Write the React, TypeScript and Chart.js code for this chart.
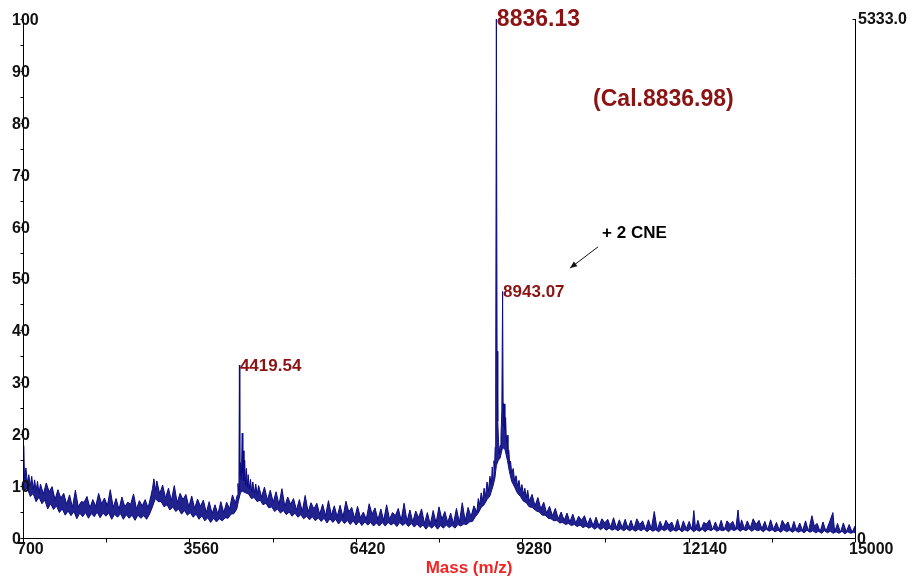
import { useEffect, useRef } from 'react';
import { Chart, registerables } from 'chart.js';

Chart.register(...registerables);

// ---- Spectrum trace: [mass (m/z), relative intensity (%)] ----
const lowMassBaseline: [number, number][] = [
  [700,12.6],[712,17.8],[725,11.4],[750,13.5],[775,10.6],[800,12.2],[825,10.0],[850,11.9],[875,9.4],[900,11.2],
  [925,9.1],[950,10.9],[975,8.6],[1000,10.4],[1050,8.5],[1100,10.6],[1150,8.9],[1200,9.9],[1250,7.4],[1300,9.3],
  [1350,7.7],[1400,8.6],[1450,6.5],[1500,8.3],[1550,5.9],[1600,9.2],[1650,6.0],[1700,7.0],[1750,6.9],[1800,8.0],
  [1850,5.8],[1900,7.4],[1950,6.1],[2000,8.6],[2050,6.6],[2100,7.7],[2150,6.2],[2200,9.3],[2250,5.9],[2300,7.6],
  [2350,5.5],[2400,7.9],[2450,6.0],[2500,6.9],[2550,6.5],[2600,8.5],[2650,5.6],[2700,7.2],[2750,6.2],[2800,7.4],
  [2850,5.8],[2900,8.2],[2925,9.5],[2950,11.4],[2975,9.2],[3000,11.0],[3050,8.5],[3100,10.2],[3150,7.7],[3200,9.6],
  [3250,7.2],[3300,10.1],[3350,6.8],[3400,8.6],[3450,7.4],[3500,8.4],[3550,6.0],[3600,8.1],[3650,5.7],[3700,7.5],
  [3750,6.1],[3800,7.3],[3850,4.9],[3900,7.0],[3950,4.7],[4000,6.4],[4050,4.6],[4100,7.0],[4150,4.9],[4200,6.9],
  [4250,5.6],[4300,8.3],[4350,6.7],[4380,8.2],
];

const peak4419Region: [number, number][] = [
  [4395,10.5],[4405,9.0],[4412,13.0],[4419.54,33.3],[4426,12.0],[4438,14.5],[4452,11.2],[4468,20.2],[4478,12.5],
  [4488,16.8],[4498,11.0],[4510,15.0],[4525,10.2],[4540,13.4],[4555,9.8],[4570,12.2],[4590,9.5],[4610,11.3],
  [4630,8.9],[4650,10.8],[4675,8.6],[4700,10.4],
];

const midMassBaseline: [number, number][] = [
  [4725,8.4],[4750,10.1],[4800,7.9],[4850,9.8],[4900,7.3],[4950,9.2],[5000,6.9],[5050,8.9],[5100,6.4],[5150,9.5],
  [5200,6.1],[5250,7.9],[5300,6.5],[5350,7.6],[5400,5.4],[5450,7.4],[5500,5.1],[5550,8.2],[5600,5.0],[5650,6.8],
  [5700,5.6],[5750,6.7],[5800,4.6],[5850,6.5],[5900,4.3],[5950,7.2],[6000,4.4],[6050,6.2],[6100,4.1],[6150,6.3],
  [6200,4.0],[6250,7.1],[6300,5.0],[6350,5.9],[6400,3.8],[6450,6.1],[6500,3.9],[6550,5.0],[6600,3.6],[6650,6.6],
  [6700,4.6],[6750,5.8],[6800,3.5],[6850,5.6],[6900,3.4],[6950,6.4],[7000,3.6],[7050,4.9],[7100,4.3],[7150,5.7],
  [7200,3.4],[7250,6.7],[7300,3.2],[7350,5.4],[7400,3.1],[7450,5.2],[7500,3.9],[7550,5.6],[7600,2.8],[7650,4.9],
  [7700,2.6],[7750,5.3],[7800,2.9],[7850,6.0],[7900,3.6],[7950,5.1],[8000,3.0],[8050,4.8],[8100,2.8],[8150,5.7],
  [8200,3.0],[8250,6.8],[8300,3.3],[8350,5.9],[8400,4.1],[8450,6.2],[8500,5.0],
];

const peak8836Region: [number, number][] = [
  [8525,7.6],[8550,6.4],[8575,8.7],[8600,7.2],[8625,9.6],[8650,8.0],[8675,10.8],[8700,9.0],[8725,11.9],[8750,10.3],
  [8765,13.7],[8780,11.6],[8795,14.9],[8805,13.2],[8815,17.5],[8825,30.0],[8836.13,100],[8848,36.0],[8860,22.5],
  [8873,18.4],[8887,16.2],[8900,17.8],[8915,19.5],[8930,24.5],[8943.07,47.5],[8952,26.0],[8962,21.5],[8972,25.8],
  [8982,20.8],[8995,23.2],[9008,18.6],[9020,19.8],[9035,16.3],[9050,16.9],[9065,14.2],[9080,14.8],[9100,12.4],
  [9125,13.4],[9150,11.0],[9175,12.0],[9200,10.0],[9225,11.1],[9250,9.2],[9275,10.3],[9300,8.4],[9325,9.6],
  [9350,7.8],[9375,9.2],[9400,7.1],
];

const highMassBaseline: [number, number][] = [
  [9450,8.4],[9500,6.2],[9550,7.8],[9600,5.6],[9650,6.9],[9700,4.8],[9750,6.1],[9800,4.3],[9850,5.7],[9900,3.7],
  [9950,5.0],[10000,3.4],[10050,4.8],[10100,3.1],[10150,4.6],[10200,2.9],[10250,4.2],[10300,3.4],[10350,4.3],
  [10400,2.6],[10450,3.9],[10500,2.4],[10550,4.0],[10600,2.3],[10650,3.7],[10700,2.9],[10750,3.6],[10800,2.1],
  [10850,3.9],[10900,2.0],[10950,3.5],[11000,2.0],[11050,3.6],[11100,1.9],[11150,3.4],[11200,1.8],[11250,3.7],
  [11300,2.6],[11350,3.3],[11400,1.7],[11450,3.5],[11500,1.8],[11550,5.1],[11600,1.6],[11650,3.2],[11700,1.9],
  [11750,3.4],[11800,2.5],[11850,3.1],[11900,1.7],[11950,3.6],[12000,1.5],[12050,3.3],[12100,1.8],[12150,3.2],
  [12200,1.6],[12230,5.3],[12260,1.7],[12300,3.4],[12350,1.5],[12400,3.0],[12450,2.7],[12500,3.5],[12550,1.6],
  [12600,3.1],[12650,1.7],[12700,3.4],[12750,1.5],[12800,3.3],[12850,2.6],[12900,3.2],[12950,1.7],[12990,5.4],
  [13020,1.9],[13050,3.5],[13100,1.8],[13150,3.3],[13200,1.9],[13250,3.7],[13300,2.6],[13350,3.4],[13400,1.8],
  [13450,3.2],[13500,1.6],[13550,3.5],[13600,1.7],[13650,3.0],[13700,1.5],[13750,3.4],[13800,2.4],[13850,3.1],
  [13900,1.4],[13950,3.2],[14000,1.5],[14050,2.9],[14100,1.4],[14150,3.3],[14200,1.3],[14260,4.3],[14300,2.3],
  [14350,2.8],[14400,1.2],[14450,3.1],[14500,1.3],[14550,2.7],[14620,4.9],[14650,1.2],[14700,2.8],[14750,1.1],
  [14800,2.9],[14850,1.2],[14900,2.6],[14950,1.1],[15000,2.3],
];

// ---- Lower edge of the noise band: [mass (m/z), relative intensity (%)] ----
const noiseFloorLowMass: [number, number][] = [
  [700,10.6],[725,9.2],[775,9.6],[825,8.0],[875,8.6],[925,7.0],[975,7.9],[1025,6.6],[1075,7.3],[1125,5.6],
  [1175,6.6],[1225,5.5],[1275,6.2],[1325,4.9],[1375,5.6],[1425,4.4],[1475,5.2],[1525,4.3],[1575,5.1],[1625,3.7],
  [1675,4.8],[1725,4.1],[1775,4.9],[1825,3.8],[1875,4.7],[1925,4.1],[1975,5.0],[2025,3.9],[2075,4.8],[2125,4.2],
  [2175,4.8],[2225,3.6],[2275,4.6],[2325,4.0],[2375,4.7],[2425,3.6],[2475,4.5],[2525,3.8],[2575,4.4],[2625,3.4],
  [2675,4.4],[2725,3.8],[2775,4.3],[2825,3.6],[2875,4.6],[2925,6.0],[2975,7.6],[3025,7.0],[3075,7.0],[3125,6.0],
  [3175,6.4],[3225,5.4],[3275,6.0],[3325,5.1],[3375,5.6],[3425,4.6],[3475,5.3],[3525,4.4],[3575,4.9],[3625,4.0],
  [3675,4.6],[3725,3.6],[3775,4.3],[3825,3.3],[3875,3.9],[3925,3.0],[3975,3.8],[4025,3.1],[4075,3.7],[4125,3.3],
  [4175,3.9],[4225,3.8],[4275,4.6],[4325,4.7],[4375,5.6],[4400,7.0],[4440,8.8],[4475,9.0],[4525,8.7],[4575,8.5],
  [4625,7.6],[4675,7.8],
];

const noiseFloorMidMass: [number, number][] = [
  [4725,7.0],[4775,7.3],[4825,6.4],[4875,6.7],[4925,5.8],[4975,6.0],[5025,5.1],[5075,5.6],[5125,4.8],[5175,5.3],
  [5225,4.5],[5275,5.0],[5325,4.2],[5375,4.8],[5425,4.0],[5475,4.5],[5525,3.7],[5575,4.2],[5625,3.5],[5675,4.1],
  [5725,3.3],[5775,3.9],[5825,3.2],[5875,3.8],[5925,2.9],[5975,3.7],[6025,3.0],[6075,3.6],[6125,2.7],[6175,3.5],
  [6225,2.8],[6275,3.4],[6325,2.6],[6375,3.3],[6425,2.5],[6475,3.2],[6525,2.4],[6575,3.1],[6625,2.5],[6675,3.0],
  [6725,2.3],[6775,2.9],[6825,2.3],[6875,3.0],[6925,2.3],[6975,3.0],[7025,2.5],[7075,2.9],[7125,2.2],[7175,3.0],
  [7225,2.4],[7275,2.9],[7325,2.2],[7375,2.8],[7425,2.1],[7475,2.7],[7525,2.0],[7575,2.5],[7625,1.7],[7675,2.4],
  [7725,1.9],[7775,2.5],[7825,1.7],[7875,2.4],[7925,1.9],[7975,2.5],[8025,2.0],[8075,2.4],[8125,1.9],[8175,2.6],
  [8225,2.3],[8275,2.7],[8325,2.6],[8375,3.1],[8425,3.2],[8475,4.1],[8525,4.8],[8575,5.9],[8625,6.4],[8675,7.4],
  [8725,8.1],[8775,9.9],[8810,11.5],[8836.13,14.0],[8870,15.0],[8900,15.4],[8943.07,17.5],[8985,17.0],
  [9025,15.0],[9060,12.8],[9100,10.9],[9150,9.8],[9200,8.6],[9250,8.0],[9300,7.1],[9350,6.8],[9400,6.0],[9450,5.9],
];

const noiseFloorHighMass: [number, number][] = [
  [9525,5.2],[9575,5.0],[9625,4.4],[9675,4.4],[9725,3.8],[9775,3.7],[9825,3.3],[9875,3.4],[9925,2.9],[9975,3.0],
  [10025,2.6],[10075,2.8],[10125,2.4],[10175,2.6],[10225,2.2],[10275,2.5],[10325,2.0],[10375,2.3],[10425,1.9],
  [10475,2.2],[10525,1.7],[10575,2.1],[10625,1.6],[10675,2.0],[10725,1.5],[10775,1.9],[10825,1.5],[10875,1.8],
  [10925,1.4],[10975,1.8],[11025,1.4],[11075,1.8],[11125,1.4],[11175,1.7],[11225,1.3],[11275,1.7],[11325,1.4],
  [11375,1.8],[11425,1.2],[11475,1.7],[11525,1.3],[11575,1.6],[11625,1.2],[11675,1.7],[11725,1.4],[11775,1.8],
  [11825,1.2],[11875,1.6],[11925,1.3],[11975,1.7],[12025,1.2],[12075,1.6],[12125,1.3],[12175,1.8],[12225,1.2],
  [12275,1.6],[12325,1.3],[12375,1.7],[12425,1.2],[12475,1.7],[12525,1.4],[12575,1.8],[12625,1.3],[12675,1.6],
  [12725,1.4],[12775,1.7],[12825,1.2],[12875,1.7],[12925,1.4],[12975,1.8],[13025,1.3],[13075,1.7],[13125,1.4],
  [13175,1.8],[13225,1.3],[13275,1.7],[13325,1.4],[13375,1.6],[13425,1.2],[13475,1.7],[13525,1.3],[13575,1.6],
  [13625,1.2],[13675,1.5],[13725,1.1],[13775,1.6],[13825,1.2],[13875,1.5],[13925,1.1],[13975,1.5],[14025,1.1],
  [14075,1.4],[14125,1.0],[14175,1.5],[14225,1.1],[14275,1.4],[14325,1.0],[14375,1.3],[14425,0.9],[14475,1.4],
  [14525,1.0],[14575,1.3],[14625,0.9],[14675,1.2],[14725,0.9],[14775,1.3],[14825,0.8],[14875,1.2],[14925,0.9],
  [14975,1.1],[15000,1.0],
];

// ---- Axes ----
const xTickLabels = [700, 3560, 6420, 9280, 12140, 15000];
const xMinorTicks = [2130, 4990, 7850, 10710, 13570];
const yTickLabels = [0, 10, 20, 30, 40, 50, 60, 70, 80, 90, 100];
const yMinorTicks = [5, 15, 25, 35, 45, 55, 65, 75, 85, 95];
const rightAxisTop = '5333.0';
const rightAxisBottom = '0';
const xAxisTitle = 'Mass (m/z)';

// ---- Peak annotations ----
const peakMasses = [4419.54, 8836.13, 8943.07];
const peakIntensities = [33.3, 100, 47.5];
const calculatedText = '(Cal.8836.98)';
const adductText = '+ 2 CNE';

const FONT = '"Liberation Sans", Arial, Helvetica, sans-serif';
const TRACE = '#0a0a82';

const spectrumDecor = {
  id: 'spectrumDecor',
  afterDatasetsDraw(chart: any) {
    const { ctx, chartArea, scales } = chart;
    const xs = scales.x;
    const ys = scales.y;
    const left = Math.round(chartArea.left) + 0.5;
    const right = Math.round(chartArea.right) + 0.5;
    const top = Math.round(chartArea.top);
    const bottom = Math.round(chartArea.bottom) + 0.5;

    ctx.save();
    ctx.strokeStyle = '#000';
    ctx.lineWidth = 1;
    ctx.beginPath();
    ctx.moveTo(left, top);
    ctx.lineTo(left, bottom);
    ctx.lineTo(right, bottom);
    ctx.lineTo(right, top);
    ctx.stroke();

    ctx.beginPath();
    [...xTickLabels, ...xMinorTicks].forEach((v) => {
      const px = Math.round(xs.getPixelForValue(v)) + 0.5;
      ctx.moveTo(px, bottom);
      ctx.lineTo(px, bottom + 4);
    });
    [...yMinorTicks, ...yTickLabels].forEach((v) => {
      const py = Math.round(ys.getPixelForValue(v)) + 0.5;
      ctx.moveTo(left - 3, py);
      ctx.lineTo(left, py);
    });
    ctx.moveTo(right - 3, top + 0.5);
    ctx.lineTo(right, top + 0.5);
    ctx.stroke();

    // tick labels
    ctx.fillStyle = '#111';
    ctx.font = `bold 16px ${FONT}`;
    ctx.textBaseline = 'middle';
    ctx.textAlign = 'left';
    yTickLabels.forEach((v) => {
      ctx.fillText(String(v), left - 11.5, ys.getPixelForValue(v) + 1.5);
    });
    xTickLabels.forEach((v) => {
      ctx.fillText(String(v), xs.getPixelForValue(v) - 6, bottom + 11);
    });
    ctx.fillText(rightAxisTop, right + 2.5, top + 0.5);
    ctx.fillText(rightAxisBottom, right + 1.5, bottom + 1);

    // axis title
    ctx.fillStyle = '#f22424';
    ctx.font = `bold 17px ${FONT}`;
    ctx.textAlign = 'center';
    ctx.fillText(xAxisTitle, xs.getPixelForValue(8367), bottom + 30);

    // peak labels
    ctx.fillStyle = '#8b1313';
    ctx.textAlign = 'left';
    peakMasses.forEach((m, i) => {
      const big = peakIntensities[i] >= 99;
      ctx.font = `bold ${big ? 23 : 17}px ${FONT}`;
      ctx.fillText(m.toFixed(2), xs.getPixelForValue(m) + 0.5, ys.getPixelForValue(peakIntensities[i]) + 1);
    });

    ctx.font = `bold 23px ${FONT}`;
    ctx.fillText(calculatedText, xs.getPixelForValue(10498), ys.getPixelForValue(84.4));

    ctx.fillStyle = '#000';
    ctx.font = `bold 17px ${FONT}`;
    ctx.fillText(adductText, xs.getPixelForValue(10653), ys.getPixelForValue(58.8));

    // arrow
    const ax0 = xs.getPixelForValue(10584);
    const ay0 = ys.getPixelForValue(56.1);
    const ax1 = xs.getPixelForValue(10103);
    const ay1 = ys.getPixelForValue(52.0);
    ctx.strokeStyle = '#111';
    ctx.beginPath();
    ctx.moveTo(ax0, ay0);
    ctx.lineTo(ax1, ay1);
    ctx.stroke();
    const ang = Math.atan2(ay1 - ay0, ax1 - ax0);
    const len = 7;
    const wid = 3;
    ctx.fillStyle = '#111';
    ctx.beginPath();
    ctx.moveTo(ax1, ay1);
    ctx.lineTo(ax1 - len * Math.cos(ang) + wid * Math.sin(ang), ay1 - len * Math.sin(ang) - wid * Math.cos(ang));
    ctx.lineTo(ax1 - len * Math.cos(ang) - wid * Math.sin(ang), ay1 - len * Math.sin(ang) + wid * Math.cos(ang));
    ctx.closePath();
    ctx.fill();

    ctx.restore();
  },
};

export default function App() {
  const canvasRef = useRef<HTMLCanvasElement | null>(null);

  useEffect(() => {
    document.body.style.margin = '0';
    const canvas = canvasRef.current;
    if (!canvas) return;
    const toPoints = (rows: [number, number][]) => rows.map(([x, y]) => ({ x, y }));
    const trace = toPoints([
      ...lowMassBaseline,
      ...peak4419Region,
      ...midMassBaseline,
      ...peak8836Region,
      ...highMassBaseline,
    ]);
    const floor = toPoints([...noiseFloorLowMass, ...noiseFloorMidMass, ...noiseFloorHighMass]);

    const chart = new Chart(canvas, {
      type: 'line',
      data: {
        datasets: [
          {
            data: floor,
            borderColor: TRACE,
            borderWidth: 1,
            pointRadius: 0,
            tension: 0,
            fill: false,
          },
          {
            data: trace,
            borderColor: TRACE,
            backgroundColor: 'rgba(10,10,130,0.9)',
            borderWidth: 1,
            pointRadius: 0,
            tension: 0,
            fill: 0,
          },
        ],
      },
      options: {
        animation: false,
        responsive: false,
        maintainAspectRatio: false,
        layout: { padding: { left: 23, right: 61, top: 19, bottom: 45 } },
        scales: {
          x: { type: 'linear', min: 700, max: 15000, display: false },
          y: { type: 'linear', min: 0, max: 100, display: false },
        },
        plugins: {
          legend: { display: false },
          tooltip: { enabled: false },
        },
      },
      plugins: [spectrumDecor],
    });
    return () => chart.destroy();
  }, []);

  return (
    <div style={{ width: 916, height: 583, background: '#fff' }}>
      <canvas ref={canvasRef} width={916} height={583} style={{ display: 'block' }} />
    </div>
  );
}
